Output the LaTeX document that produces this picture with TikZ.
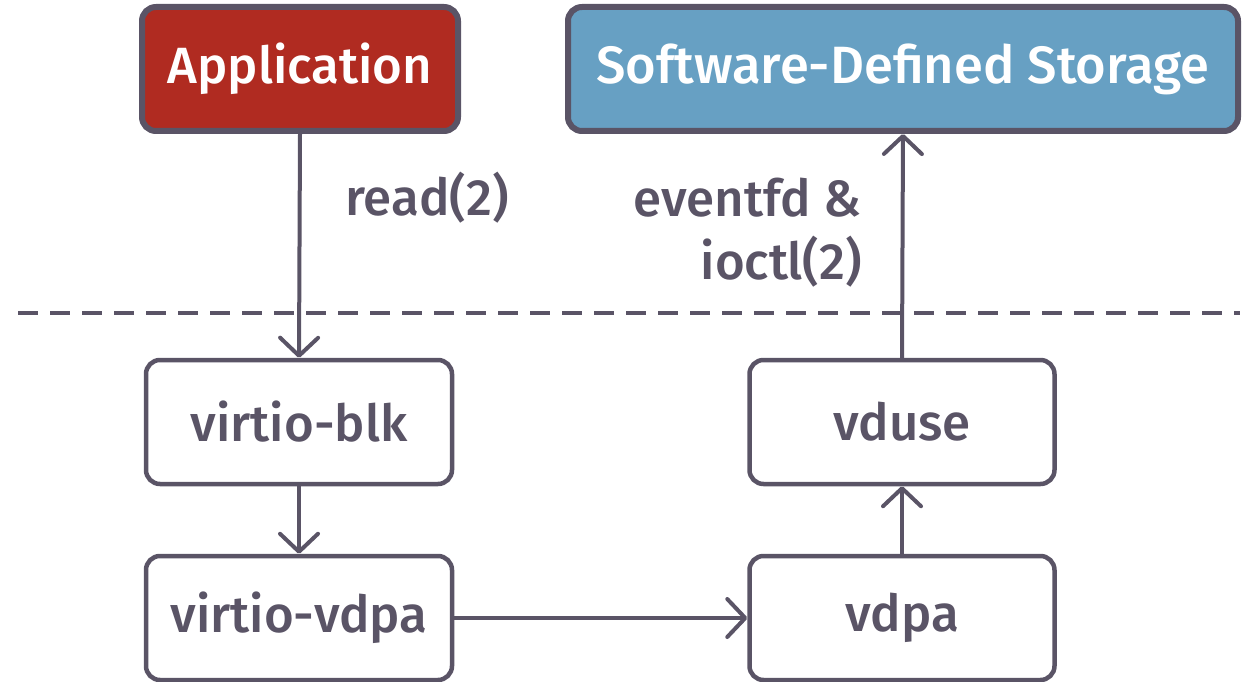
\documentclass[tikz,border=0pt]{standalone}
\usepackage{fontspec}
\setmainfont{Fira Sans Medium}
\usetikzlibrary{arrows.meta}
\definecolor{edge}{HTML}{5A5466}
\definecolor{appred}{HTML}{B02B21}
\definecolor{sdsblue}{HTML}{67A0C3}
\tikzset{
  box/.style={draw=edge, rounded corners=14pt, line width=4.5pt, minimum height=124pt,
    font=\fontsize{51}{55}\selectfont, text=edge, fill=white},
  topbox/.style={box, line width=6pt, text=white, font=\fontsize{51}{55}\selectfont},
  flow/.style={draw=edge, line width=4pt, line cap=round,
    -{Straight Barb[length=18pt,width=38pt,round]}},
  lbl/.style={text=edge, font=\fontsize{51}{55}\selectfont, inner sep=0pt}
}
\begin{document}
\begin{tikzpicture}[x=1pt,y=-1pt]
\useasboundingbox (0,0) rectangle (1251,682);
% top row: user space
\node[topbox, fill=appred, minimum width=316pt] (app) at (300,69) {Application};
\node[topbox, fill=sdsblue, minimum width=670pt, font=\fontsize{52.5}{56}\selectfont] (sds) at (903,69) {Software-Defined Storage};
% boundary between user space and kernel
\draw[edge, line width=4pt, dash pattern=on 20pt off 12pt] (18,313) -- (1240,313);
% kernel modules
\node[box, minimum width=306pt] (blk) at (299,422) {virtio-blk};
\node[box, minimum width=306pt] (vvdpa) at (299,618) {virtio-vdpa};
\node[box, minimum width=305pt] (vduse) at (902,422) {vduse};
\node[box, minimum width=305pt] (vdpa) at (902,618) {vdpa};
% data path
\draw[flow] (app.south) -- (blk.north);
\draw[flow] (blk.south) -- (vvdpa.north);
\draw[flow] (vvdpa.east) -- (vdpa.west);
\draw[flow] (vdpa.north) -- (vduse.south);
\draw[flow] (vduse.north) -- (sds.south);
% call labels
\node[lbl, anchor=west] (rd) at (345,198) {read(2)};
\node[lbl, anchor=east] (ev) at (862,198) {eventfd \&};
\node[lbl, anchor=east] (io) at (862,262) {ioctl(2)};
\end{tikzpicture}
\end{document}
